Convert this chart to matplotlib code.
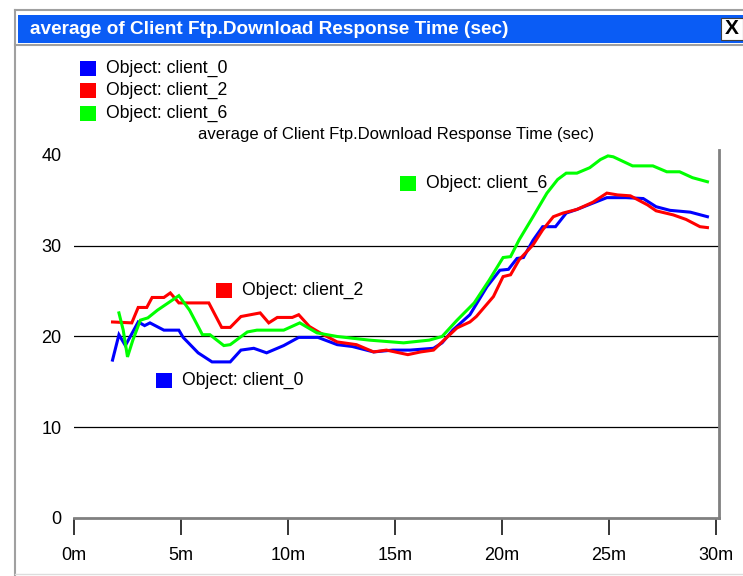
import matplotlib
matplotlib.use("Agg")
import matplotlib.pyplot as plt
from matplotlib.patches import Rectangle
from matplotlib.lines import Line2D

# minutes / seconds
t_client0 = [1.8, 2.1, 2.4, 3.0, 3.3, 3.55, 4.2, 4.9, 5.1, 5.8, 6.45, 7.3, 7.8, 8.4, 9.0,
             9.8, 10.5, 11.4, 12.3, 13.0, 14.0, 14.9, 15.7, 16.8, 17.2, 17.7, 18.5, 19.3,
             19.9, 20.3, 20.7, 21.0, 21.45, 21.9, 22.5, 23.0, 23.5, 24.25, 24.9, 25.8,
             26.6, 27.2, 27.85, 28.8, 29.6]
v_client0 = [17.4, 20.2, 19.0, 21.6, 21.2, 21.5, 20.7, 20.7, 19.9, 18.2, 17.2, 17.2, 18.5,
             18.7, 18.2, 19.0, 19.9, 19.9, 19.1, 18.9, 18.3, 18.5, 18.5, 18.7, 19.3, 20.7,
             22.4, 25.5, 27.3, 27.4, 28.6, 28.7, 30.6, 32.1, 32.1, 33.6, 34.0, 34.7, 35.3,
             35.3, 35.2, 34.3, 33.9, 33.7, 33.2]

t_client2 = [1.8, 2.7, 3.0, 3.4, 3.65, 4.2, 4.5, 4.9, 6.3, 6.9, 7.3, 7.8, 8.7, 9.1, 9.5,
             10.2, 10.5, 11.0, 11.5, 12.3, 13.2, 14.0, 14.6, 15.6, 16.2, 16.8, 17.4, 17.9,
             18.5, 18.8, 19.6, 20.05, 20.4, 20.8, 21.45, 21.9, 22.4, 22.85, 23.5, 24.25,
             24.9, 25.4, 26.0, 26.8, 27.2, 28.0, 28.6, 29.25, 29.6]
v_client2 = [21.6, 21.5, 23.2, 23.2, 24.3, 24.3, 24.8, 23.7, 23.7, 21.0, 21.0, 22.2, 22.6,
             21.5, 22.1, 22.1, 22.4, 21.1, 20.4, 19.4, 19.1, 18.3, 18.5, 18.0, 18.3, 18.5,
             19.85, 20.95, 21.6, 22.2, 24.4, 26.6, 26.8, 28.45, 30.1, 31.75, 33.2, 33.6,
             34.0, 34.8, 35.8, 35.6, 35.5, 34.5, 33.85, 33.4, 32.9, 32.1, 32.0]

t_client6 = [2.1, 2.3, 2.5, 2.75, 3.1, 3.45, 3.9, 4.4, 4.9, 5.4, 6.0, 6.35, 7.0, 7.3, 8.1,
             8.55, 9.8, 10.55, 11.35, 12.3, 13.8, 15.4, 16.6, 17.2, 17.9, 18.7, 19.4, 20.05,
             20.4, 20.8, 21.45, 22.1, 22.6, 23.0, 23.5, 24.1, 24.6, 24.95, 25.2, 26.1,
             27.05, 27.7, 28.3, 28.9, 29.6]
v_client6 = [22.6, 20.7, 17.75, 19.6, 21.8, 22.05, 22.9, 23.7, 24.5, 22.9, 20.2, 20.2, 19.0,
             19.1, 20.5, 20.7, 20.7, 21.5, 20.4, 20.0, 19.6, 19.3, 19.6, 20.0, 21.8, 23.7,
             26.2, 28.7, 28.8, 30.65, 33.2, 35.8, 37.3, 38.0, 38.0, 38.6, 39.5, 39.9, 39.8,
             38.8, 38.8, 38.15, 38.15, 37.5, 37.05]

names = ["Object: client_0", "Object: client_2", "Object: client_6"]
colors = ["#0000ff", "#ff0000", "#00ff00"]
y_ticks = [0, 10, 20, 30, 40]
x_ticks = [0, 5, 10, 15, 20, 25, 30]
x_labels = ["0m", "5m", "10m", "15m", "20m", "25m", "30m"]
title = "average of Client Ftp.Download Response Time (sec)"

W, H = 743, 576
FONT = ["Liberation Sans", "DejaVu Sans"]


def fx(x):
    return x / W


def fy(y):
    return 1 - y / H


fig = plt.figure(figsize=(W / 100, H / 100), dpi=100)

# window frame
fig.add_artist(Line2D([fx(15), fx(15)], [fy(10), fy(576)], color="#a0a0a0", lw=1.5))
fig.add_artist(Line2D([fx(15), fx(743)], [fy(10), fy(10)], color="#a0a0a0", lw=1.5))
fig.add_artist(Line2D([fx(15), fx(743)], [fy(45), fy(45)], color="#a0a0a0", lw=1.5))
fig.add_artist(Line2D([fx(15), fx(743)], [fy(574), fy(574)], color="#dddddd", lw=1.0))
fig.add_artist(Rectangle((fx(18), fy(43)), fx(725), 28 / H, color="#0a5cf5", lw=0))
fig.text(fx(30), fy(30), title, color="white", fontsize=13.7, fontweight="bold",
         family=FONT, va="center", ha="left")
fig.add_artist(Rectangle((fx(721), fy(40)), fx(22), 22 / H, facecolor="white",
                         edgecolor="#404040", lw=0.8))
fig.text(fx(732), fy(29), "X", color="black", fontsize=15, fontweight="bold",
         family=FONT, va="center", ha="center")

ax = fig.add_axes([fx(74), fy(518), fx(719 - 74), (518 - 150) / H])
ax.set_xlim(0, 30.14)
ax.set_ylim(0, 40.55)

for t, v, c in zip([t_client0, t_client2, t_client6],
                   [v_client0, v_client2, v_client6], colors):
    ax.plot(t, v, color=c, lw=2.2, solid_joinstyle="miter", zorder=3)

for yv in y_ticks[1:-1]:
    ax.axhline(yv, color="black", lw=0.9, zorder=1)

for s in ["left", "top"]:
    ax.spines[s].set_visible(False)
for s in ["bottom", "right"]:
    ax.spines[s].set_color("#808080")
    ax.spines[s].set_linewidth(2)

ax.set_yticks(y_ticks)
ax.set_yticklabels([str(v) for v in y_ticks], family=FONT, fontsize=13)
ax.tick_params(axis="y", length=0, pad=9)
ax.set_xticks(x_ticks)
ax.set_xticklabels(x_labels, family=FONT, fontsize=13)
ax.tick_params(axis="x", length=12, width=1.1, color="black", pad=9, direction="out")

ax.set_title(title, family=FONT, fontsize=12, pad=8, loc="center", x=0.5)

# legend in top-left corner
for i, (n, c) in enumerate(zip(names, colors)):
    yc = 68 + i * 22.5
    fig.add_artist(Rectangle((fx(80), fy(yc + 7.5)), 16 / W, 15 / H, color=c, lw=0))
    fig.text(fx(106), fy(yc), n, family=FONT, fontsize=12.7, va="center", ha="left")

# labels next to the curves
label_pos = [(156, 380), (216, 290), (400, 183)]
for (x, y), n, c in zip(label_pos, names, colors):
    fig.add_artist(Rectangle((fx(x), fy(y + 7.5)), 16 / W, 15 / H, color=c, lw=0))
    fig.text(fx(x + 26), fy(y), n, family=FONT, fontsize=12.7, va="center", ha="left")

fig.savefig("out.png", dpi=100)
